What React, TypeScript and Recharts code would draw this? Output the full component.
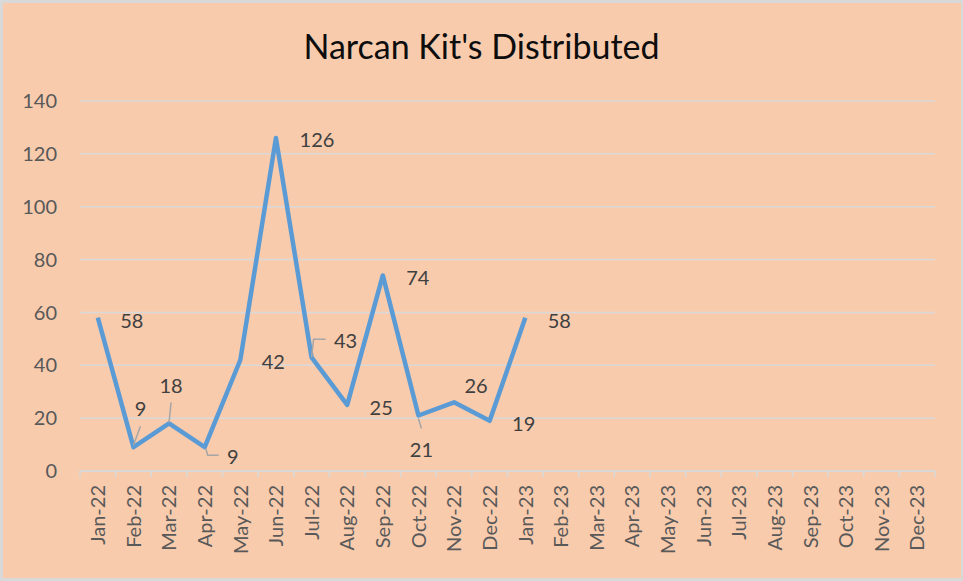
import React from "react";
import { LineChart, Line, XAxis, YAxis, CartesianGrid, LabelList } from "recharts";

const MONTHS = [
  "Jan-22", "Feb-22", "Mar-22", "Apr-22", "May-22", "Jun-22", "Jul-22", "Aug-22",
  "Sep-22", "Oct-22", "Nov-22", "Dec-22", "Jan-23", "Feb-23", "Mar-23", "Apr-23",
  "May-23", "Jun-23", "Jul-23", "Aug-23", "Sep-23", "Oct-23", "Nov-23", "Dec-23",
];
const KITS: (number | null)[] = [
  58, 9, 18, 9, 42, 126, 43, 25, 74, 21, 26, 19, 58,
  null, null, null, null, null, null, null, null, null, null, null,
];
const Y_TICKS = [0, 20, 40, 60, 80, 100, 120, 140];

// label placement, relative to the point (Excel labels were dragged by hand)
const LABEL_OFFSETS: [number, number][] = [
  [34, 2], [7, -39], [2, -38], [28, 9], [33, 1], [41, 1], [34, -17],
  [34, 2], [35, 2], [3, 33], [22, -17], [34, 2], [34, 2],
];
const LEADERS: Record<number, string> = {
  1: "M0,-2 L7,-21",
  2: "M0,-1 L2,-21",
  3: "M1,1 L3,8 L14,8",
  6: "M0,0 L2,-18 L14,-18",
  9: "M0,3 L3,13",
};

const W = 963;
const H = 581;
const M = { top: 101, right: 28, left: 0, bottom: 0 };
const Y_AXIS_W = 80;
const X_AXIS_H = 110;
const PLOT_W = W - M.left - M.right - Y_AXIS_W;
const BAND = PLOT_W / MONTHS.length;
const FONT = "Lato, 'Open Sans', sans-serif";

const chartData = MONTHS.map((m, i) => ({ month: m, kits: KITS[i] }));

function MonthTick(props: any) {
  const { x, y, payload, index } = props;
  const ty = y + 14;
  return (
    <g>
      <line x1={x - BAND / 2} x2={x - BAND / 2} y1={y} y2={y + 6} stroke="#d9d9d9" strokeWidth={1.5} />
      {index === MONTHS.length - 1 && (
        <line x1={x + BAND / 2} x2={x + BAND / 2} y1={y} y2={y + 6} stroke="#d9d9d9" strokeWidth={1.5} />
      )}
      <text
        x={x}
        y={ty}
        transform={`rotate(-90, ${x}, ${ty})`}
        textAnchor="end"
        dy="0.36em"
        fontSize={20}
        fill="#595959"
        fontFamily={FONT}
      >
        {payload.value}
      </text>
    </g>
  );
}

function PointLabel(props: any) {
  const { x, y, value, index } = props;
  if (value == null) return null;
  const [dx, dy] = LABEL_OFFSETS[index] || [34, 2];
  const leader = LEADERS[index];
  return (
    <g>
      {leader && (
        <path
          d={leader}
          transform={`translate(${x}, ${y})`}
          fill="none"
          stroke="#a6a6a6"
          strokeWidth={1.5}
        />
      )}
      <text
        x={x + dx}
        y={y + dy}
        textAnchor="middle"
        dominantBaseline="central"
        fontSize={20}
        fill="#404040"
        fontFamily={FONT}
      >
        {value}
      </text>
    </g>
  );
}

export default function App() {
  return (
    <div
      style={{
        position: "absolute",
        left: 0,
        top: 0,
        width: W,
        height: H,
        background: "#f8cbad",
        boxShadow: "inset 2px 2px 0 1px #d9d9d9, inset -1px -2px 0 1px #d9d9d9",
        fontFamily: FONT,
      }}
    >
      <div
        style={{
          position: "absolute",
          left: 0,
          top: 25,
          width: W,
          textAlign: "center",
          fontSize: 34,
          color: "#0d0d0d",
          lineHeight: "42px",
        }}
      >
        Narcan Kit's Distributed
      </div>
      <LineChart width={W} height={H} data={chartData} margin={M}>
        <CartesianGrid vertical={false} stroke="#d9d9d9" strokeWidth={1.5} />
        <XAxis
          dataKey="month"
          height={X_AXIS_H}
          interval={0}
          padding={{ left: BAND / 2, right: BAND / 2 }}
          tickSize={0}
          tickMargin={0}
          tickLine={false}
          axisLine={{ stroke: "#d9d9d9", strokeWidth: 1.5 }}
          tick={<MonthTick />}
        />
        <YAxis
          width={Y_AXIS_W}
          domain={[0, 140]}
          ticks={Y_TICKS}
          interval={0}
          axisLine={false}
          tickLine={false}
          tickSize={0}
          tickMargin={23}
          tick={{ fontSize: 20, fill: "#595959", fontFamily: FONT }}
        />
        <Line
          type="linear"
          dataKey="kits"
          stroke="#5b9bd5"
          strokeWidth={4.5}
          dot={false}
          isAnimationActive={false}
          strokeLinejoin="round"
        >
          <LabelList dataKey="kits" content={<PointLabel />} />
        </Line>
      </LineChart>
    </div>
  );
}
